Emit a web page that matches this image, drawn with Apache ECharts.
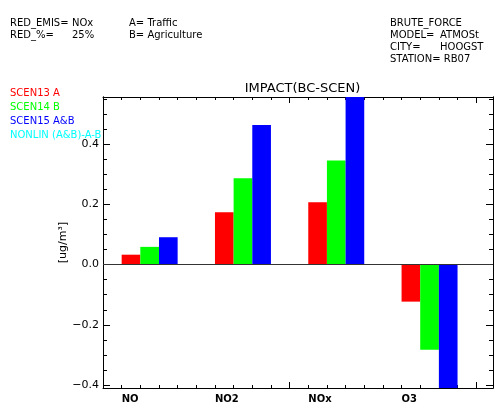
<!DOCTYPE html>
<html>
<head>
<meta charset="utf-8">
<script src="https://cdn.jsdelivr.net/npm/echarts@6/dist/echarts.min.js"></script>
<style>html,body{margin:0;padding:0;background:#fff}</style>
</head>
<body>
<div id="main" style="width:495px;height:409px"></div>
<script>
// species on the x axis
var categories = ['NO', 'NO2', 'NOx', 'O3']
// impact per scenario [ug/m3]
var scen13 = [0.033, 0.174, 0.207, -0.123]
var scen14 = [0.059, 0.287, 0.346, -0.283]
var scen15 = [0.091, 0.464, 0.600, -0.450]
var legendNames = ['SCEN13 A', 'SCEN14 B', 'SCEN15 A&B', 'NONLIN (A&B)-A-B']
var yTicks = [-0.4, -0.2, 0.0, 0.2, 0.4]
var yMin = -0.41
var yMax = 0.557
var xMax = 4.18
// header texts
var headLeft = ['RED_EMIS=', 'RED_%=']
var headLeftVal = ['NOx', '25%']
var headMid = ['A= Traffic', 'B= Agriculture']
var headRight = ['BRUTE_FORCE', 'MODEL=', 'CITY=', 'STATION= RB07']
var headRightVal = ['', 'ATMOSt', 'HOOGST', '']

var colors = ['#ff0000', '#00ff00', '#0000ff', '#00ffff']
var font = '"DejaVu Sans", sans-serif'
var barStart = 0.2 // offset of the first bar inside a category
var barWidth = 0.2

// minor ticks every 0.05
var yMinor = []
for (var v = -0.4; v < yMax; v += 0.05) {
  var r = Math.round(v * 100) / 100
  if (yTicks.indexOf(r) < 0) yMinor.push(r)
}

function barRenderer (k) {
  return function (params, api) {
    var x0 = api.value(0) + barStart + k * barWidth
    var p0 = api.coord([x0, 0])
    var p1 = api.coord([x0 + barWidth, api.value(1)])
    var cs = params.coordSys
    var rect = echarts.graphic.clipRectByRect({
      x: p0[0],
      y: Math.min(p0[1], p1[1]),
      width: p1[0] - p0[0],
      height: Math.abs(p1[1] - p0[1])
    }, { x: cs.x, y: cs.y, width: cs.width, height: cs.height })
    return rect && { type: 'rect', shape: rect, style: { fill: colors[k] } }
  }
}

function yAxisDef (pos, ticks, len, labels) {
  return {
    type: 'value',
    position: pos,
    min: yMin,
    max: yMax,
    name: labels ? '[ug/m³]' : '',
    nameLocation: 'middle',
    nameRotate: 90,
    nameGap: 34,
    nameMoveOverlap: false,
    nameTextStyle: { color: '#000', fontFamily: font, fontSize: 11 },
    axisLine: { show: true, onZero: false, lineStyle: { color: '#000', width: 1 } },
    axisTick: { show: true, inside: true, length: len, customValues: ticks, lineStyle: { color: '#000' } },
    axisLabel: {
      show: labels,
      customValues: yTicks,
      margin: 4,
      color: '#000',
      fontFamily: font,
      fontSize: 11,
      formatter: function (val) { return val.toFixed(1).replace('-', '−') }
    },
    splitLine: { show: false }
  }
}

function xAxisDef (pos) {
  return {
    type: 'value',
    position: pos,
    min: 0,
    max: xMax,
    interval: 2,
    axisLine: { show: true, onZero: false, lineStyle: { color: '#000', width: 1 } },
    axisTick: { show: true, inside: true, length: 6, lineStyle: { color: '#000' } },
    minorTick: { show: true, splitNumber: 10, length: 3, lineStyle: { color: '#000' } },
    axisLabel: { show: false },
    splitLine: { show: false }
  }
}

var graphics = []
function txt (x, y, s, color, size) {
  graphics.push({
    type: 'text', left: x, top: y - size * 0.6,
    style: { text: s, fill: color, font: size + 'px ' + font }
  })
}
headLeft.forEach(function (s, i) { txt(10, 24 + i * 12, s, '#000', 10) })
headLeftVal.forEach(function (s, i) { txt(72, 24 + i * 12, s, '#000', 10) })
headMid.forEach(function (s, i) { txt(129, 24 + i * 12, s, '#000', 10) })
headRight.forEach(function (s, i) { txt(390, 24 + i * 12.3, s, '#000', 10) })
headRightVal.forEach(function (s, i) { if (s) txt(440, 24 + i * 12.3, s, '#000', 10) })
legendNames.forEach(function (s, i) { txt(10, 94 + i * 14.3, s, colors[i], 10) })

var myChart = echarts.init(document.getElementById('main'))
var option = {
  animation: false,
  backgroundColor: '#fff',
  title: {
    text: 'IMPACT(BC-SCEN)',
    left: 297.5,
    textAlign: 'center',
    top: 77,
    textStyle: { color: '#000', fontFamily: font, fontSize: 13, fontWeight: 'normal' }
  },
  grid: { left: 103, right: 2, top: 97, bottom: 21 },
  graphic: graphics,
  xAxis: [xAxisDef('bottom'), xAxisDef('top')],
  yAxis: [
    yAxisDef('left', yTicks, 7, true),
    yAxisDef('left', yMinor, 4, false),
    yAxisDef('right', yTicks, 7, false),
    yAxisDef('right', yMinor, 4, false)
  ],
  series: [
    {
      name: legendNames[0],
      type: 'custom',
      renderItem: barRenderer(0),
      encode: { x: 0, y: 1 },
      data: scen13.map(function (v, i) { return [i, v] }),
      markLine: {
        silent: true,
        symbol: 'none',
        label: { show: false },
        lineStyle: { color: '#333', width: 1, type: 'solid' },
        data: [{ yAxis: 0 }]
      }
    },
    {
      name: legendNames[1],
      type: 'custom',
      renderItem: barRenderer(1),
      encode: { x: 0, y: 1 },
      data: scen14.map(function (v, i) { return [i, v] })
    },
    {
      name: legendNames[2],
      type: 'custom',
      renderItem: barRenderer(2),
      encode: { x: 0, y: 1 },
      data: scen15.map(function (v, i) { return [i, v] })
    },
    {
      // category labels under the bar groups
      type: 'custom',
      silent: true,
      encode: { x: 0, y: 1 },
      data: categories.map(function (c, i) { return [i, yMin] }),
      renderItem: function (params, api) {
        var p = api.coord([api.value(0) + barStart, yMin])
        return {
          type: 'text',
          x: p[0],
          y: p[1] + 11,
          style: {
            text: categories[params.dataIndex],
            fill: '#000',
            font: 'bold 10px ' + font,
            textAlign: 'left',
            textVerticalAlign: 'middle'
          }
        }
      }
    }
  ]
}
myChart.setOption(option)
</script>
</body>
</html>
